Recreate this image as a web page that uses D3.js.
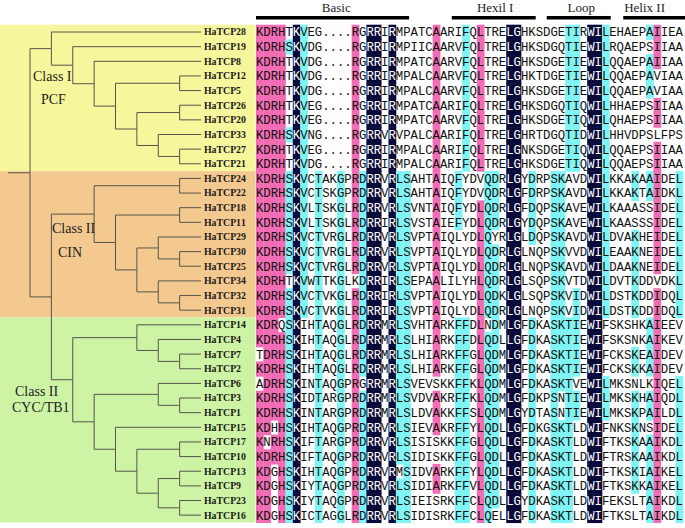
<!DOCTYPE html>
<html><head><meta charset="utf-8">
<script src="https://cdn.jsdelivr.net/npm/d3@7"></script>
<style>body{margin:0;background:#fff}svg{display:block}</style>
</head><body>
<script>
// ---------------- DATA ----------------
const names = ["HaTCP28","HaTCP19","HaTCP8","HaTCP12","HaTCP5","HaTCP26","HaTCP20","HaTCP33","HaTCP27","HaTCP21",
  "HaTCP24","HaTCP22","HaTCP18","HaTCP11","HaTCP29","HaTCP30","HaTCP25","HaTCP34","HaTCP32","HaTCP31",
  "HaTCP14","HaTCP4","HaTCP7","HaTCP2","HaTCP6","HaTCP3","HaTCP1","HaTCP15","HaTCP17","HaTCP10","HaTCP13","HaTCP9","HaTCP23","HaTCP16"];

const sequences = [
  "KDRHTKVEG....RGRRIRMPATCAARIFQLTRELGHKSDGETIRWILEHAEPAIIEA",
  "KDRHSKVDG....RGRRIRMPIICAARVFQLTRELGHKSDGQTIEWILRQAEPSIIAA",
  "KDRHTKVDG....RGRRIRMPATCAARVFQLTRELGHKSDGETIEWILQQAEPAIIAA",
  "KDRHTKVDG....RGRRIRMPALCAARVFQLTRELGHKTDGETIEWILQQAEPAVIAA",
  "KDRHTKVDG....RGRRIRMPALCAARVFQLTRELGHKSDGETIEWILQQAEPAVIAA",
  "KDRHTKVEG....RGRRIRMPATCAARIFQLTRELGHKSDGQTIQWILHHAEPSIIAA",
  "KDRHTKVEG....RGRRIRMPATCAARVFQLTRELGHKSDGETIQWILQHAEPSIIAA",
  "KDRHSKVNG....RGRRVRVPALCAARIFQLTRELGHRTDGQTIDWILHHVDPSLFPS",
  "KDRHTKVEG....RGRRIRMPALCAARIFQLTRELGNKSDGETIQWILQQAEPSIIAA",
  "KDRHTKVDG....RGRRIRMPALCAARIFQLTRELGHKSDGETIQWILQQAEPSIIAA",
  "KDRHSKVCTAKGPRDRRVRLSAHTAIQFYDVQDRLGYDRPSKAVDWILKKAKAAIDEL",
  "KDRHSKVCTSKGPRDRRVRLSAHTAIQFYDVQDRLGFDRPSKAVDWILKKAKTAIDKL",
  "KDRHSKVLTSKGLRDRRVRLSVNTAIQFYDLQDRLGFDQPSKAVEWILKAAASSIDEL",
  "KDRHSKVLTSKGLRDRRIRLSVSTAIEFYDLQDRLGYDQPSKAVEWILKAASSSIDEL",
  "KDRHSKVCTVRGLRDRRVRLSVPTAIQLYDLQYRLGLDQPSKAVDWILDVAKHEIDEL",
  "KDRHSKVCTVRGLRDRRVRLSVPTAIQLYDLQDRLGLNQPSKVVDWILEAAKNEIDEL",
  "KDRHSKVCTVRGLRDRRVRLSVPTAIQLYDLQDRLGLNQPSKAVDWILDAAKNEIDEL",
  "KDRHTKVWTTKGLKDRRIRLSEPAALILYHLQDRLGLSQPSKVTDWILDVTKDDVDKL",
  "KDRHSKVCTVKGLRDRRIRLSVPTAIQLYDLQDKLGLSQPSKVIDWILDSTKDDIDQL",
  "KDRHSKVCTVKGLRDRRIRLSVPTAIQLYDLQDRLGLNQPSKVIDWILDSTKDDIDQL",
  "KDRQSKIHTAQGLRDRRMRLSVHTARKFFDLNDMLGFDKASKTIEWIFSKSHKAIEEV",
  "KDRHSKIHTAQGLRDRRMRLSLHIARKFFDLQDLLGFDKASKTIEWIFSKSNKAIKEV",
  "TDRHSKIHTAQGLRDRRMRLSLHIARKFFGLQDMLGFDKASKTIEWIFCKSKEAIDEV",
  "KDRHSKIHTAQGLRDRRMRLSLHIARKFFGLQDMLGFDKASKTIEWIFCKSKKAIDEV",
  "ADRHSKINTAQGPRGRRMRLSVEVSKKFFKLQDMLGFDKASKTVEWILMKSNLKIQEL",
  "KDRHSKIDTARGPRDRRMRLSVDVAKRFFKLQDMLGFDKPSNTIEWILMKSKHAIQDL",
  "KDRHSKINTARGPRDRRMRLSLDVAKKFFSLQDMLGYDTASNTIEWILMKSKPAILDL",
  "KDHHSKIHTAQGPRDRRVRLSIEVAKRFFYLQDLLGFDKGSKTLDWIFNKSKNSIDEL",
  "KNRHSKIFTARGPRDRRVRLSISISKKFFGLQDLLGFDKASKTLDWIFTKSKAAIKDL",
  "KDRHSKIFTAQGPRDRRVRLSIDISKKFFGLQDLLGFDKASKTLDWIFTRSKAAIKDL",
  "KDGHSKIHTAQGPRDRRVRMSIDVARKFFYLQDLLGFDKASKTLDWIFTKSKIAIKEL",
  "KDGHSKIYTAQGPRDRRVRLSIDIARKFFVLQDLLGFDKASKTLDWIFTKSKKAIKEL",
  "KDGHSKIYTAQGPRDRRVRLSIEISRKFFCLQDLLGYDKASKTLDWIFEKSLTAIKDL",
  "KDGHSKICTAGGLRDRRVRLSIDISRKFFCLQELLGFDKASKTLDWIFTKSLTAIKDL"
];

// tree topology (nested pairs)
const tree = [
  ["HaTCP28", ["HaTCP19", ["HaTCP8", [["HaTCP12","HaTCP5"], [["HaTCP26","HaTCP20"], ["HaTCP33", ["HaTCP27","HaTCP21"]]]]]]],
  [
    [["HaTCP24","HaTCP22"], [["HaTCP18","HaTCP11"], [["HaTCP29",["HaTCP30","HaTCP25"]], ["HaTCP34",["HaTCP32","HaTCP31"]]]]],
    [["HaTCP14",["HaTCP4",["HaTCP7","HaTCP2"]]],
     [["HaTCP6",["HaTCP3","HaTCP1"]], ["HaTCP15", [["HaTCP17","HaTCP10"], [["HaTCP13","HaTCP9"],["HaTCP23","HaTCP16"]]]]]]
  ]
];

const classNames = [["Class I","PCF"], ["Class II","CIN"], ["Class II","CYC/TB1"]];
const classFirst = ["HaTCP28","HaTCP24","HaTCP14"];
const classLast  = ["HaTCP21","HaTCP31","HaTCP16"];

const regionNames = ["Basic","Hexil I","Loop","Helix II"];
const regionStart = [0, 26.6, 39.5, 49.9];
const regionEnd   = [20.8, 38.0, 48.2, 60];
const regionLabelAt = [10.9, 32.5, 44.2, 52.8];

// ---------------- LAYOUT ----------------
const W = 685, H = 528;
const rowStep = 14.64, topY = 24.7;
const colStep = 7.36, alignX = 256;
const nCols = sequences[0].length;

const svg = d3.select("body").append("svg").attr("width", W).attr("height", H)
  .style("font-kerning","none");

const root = d3.hierarchy(tree, d => Array.isArray(d) ? d : null);
const leafOrder = root.leaves().map(d => d.data);
const rowY = d3.scaleBand().domain(leafOrder).range([topY, topY + leafOrder.length * rowStep]);
const colX = d3.scaleBand().domain(d3.range(nCols)).range([alignX, alignX + nCols * colStep]);
const seqByName = new Map(names.map((n, i) => [n, sequences[i]]));

// class background bands
const bandColors = ["#f6f69c", "#f4c98f", "#cdf4a4"];
const bands = svg.append("g");
classNames.forEach((c, i) => {
  const y0 = rowY(classFirst[i]), y1 = rowY(classLast[i]) + rowY.bandwidth();
  bands.append("rect").attr("x", 0).attr("y", y0).attr("width", 255.5).attr("height", y1 - y0)
    .attr("fill", bandColors[i]);
});

// tree
const treeW = 171;
d3.cluster().size([leafOrder.length * rowStep, treeW]).separation(() => 1)(root);
const tx = d => 30 + d.y, ty = d => topY + d.x;
const tg = svg.append("g").attr("fill", "none").attr("stroke", "#55554a").attr("stroke-width", 1);
tg.selectAll("path").data(root.links()).join("path")
  .attr("d", l => `M${tx(l.source)},${ty(l.target)}H${tx(l.target)}M${tx(l.source)},${ty(l.source)}V${ty(l.target)}`);
tg.append("path").attr("d", `M8,${ty(root)}H${tx(root)}`);

// leaf labels
svg.append("g").selectAll("text").data(leafOrder).join("text")
  .attr("x", 204).attr("y", d => rowY(d) + rowY.bandwidth() / 2).attr("dy", "0.35em")
  .attr("font-family", "Liberation Serif, serif").attr("font-weight", "bold").attr("font-size", 9.8)
  .attr("fill", "#1a1a1a").text(d => d);

// class labels
const classLabelPos = [[33, 81, 41, 104], [52, 233, 58, 257], [15, 396, 12, 412]];
classNames.forEach((c, i) => {
  const p = classLabelPos[i];
  svg.append("text").attr("x", p[0]).attr("y", p[1]).text(c[0])
    .attr("font-family", "Liberation Serif, serif").attr("font-size", 14).attr("fill", "#222");
  svg.append("text").attr("x", p[2]).attr("y", p[3]).text(c[1])
    .attr("font-family", "Liberation Serif, serif").attr("font-size", 14).attr("fill", "#222");
});

// conservation per column
const nSeq = sequences.length;
const cons = d3.range(nCols).map(j => {
  const col = sequences.map(s => s[j]).filter(ch => ch !== ".");
  const counts = d3.rollups(col, v => v.length, d => d).sort((a, b) => b[1] - a[1]);
  const [res, cnt] = counts[0];
  const f = cnt / nSeq;
  return {res, level: f === 1 ? 3 : f >= 0.75 ? 2 : f >= 0.5 ? 1 : 0};
});
const levelColor = [null, "#7ff4f4", "#f26cb4", "#0a0a3a"];

const cells = [];
leafOrder.forEach(name => {
  const s = seqByName.get(name);
  for (let j = 0; j < nCols; j++) {
    const ch = s[j];
    const lv = (ch === cons[j].res) ? cons[j].level : 0;
    cells.push({name, j, ch, lv});
  }
});

const ag = svg.append("g");
ag.selectAll("rect").data(cells.filter(c => c.lv > 0)).join("rect")
  .attr("x", c => colX(c.j)).attr("y", c => rowY(c.name))
  .attr("width", colX.bandwidth() + 0.4).attr("height", rowY.bandwidth() + 0.6)
  .attr("fill", c => levelColor[c.lv]);
ag.selectAll("text").data(cells).join("text")
  .attr("x", c => colX(c.j) + colX.bandwidth() / 2)
  .attr("y", c => rowY(c.name) + rowY.bandwidth() / 2).attr("dy", "0.36em")
  .attr("text-anchor", "middle")
  .attr("font-family", "Liberation Mono, monospace").attr("font-size", 12.3)
  .attr("fill", c => c.lv === 3 ? "#fff" : "#111").text(c => c.ch);

// region headers
const hg = svg.append("g");
regionNames.forEach((r, i) => {
  const x0 = alignX + regionStart[i] * colStep, x1 = alignX + regionEnd[i] * colStep;
  hg.append("rect").attr("x", x0).attr("y", 16).attr("width", x1 - x0).attr("height", 3.5).attr("fill", "#000");
  hg.append("text").attr("x", alignX + regionLabelAt[i] * colStep).attr("y", 12)
    .attr("text-anchor", "middle").attr("font-family", "Liberation Serif, serif")
    .attr("font-size", 13).attr("fill", "#222").text(r);
});
</script>
</body></html>
